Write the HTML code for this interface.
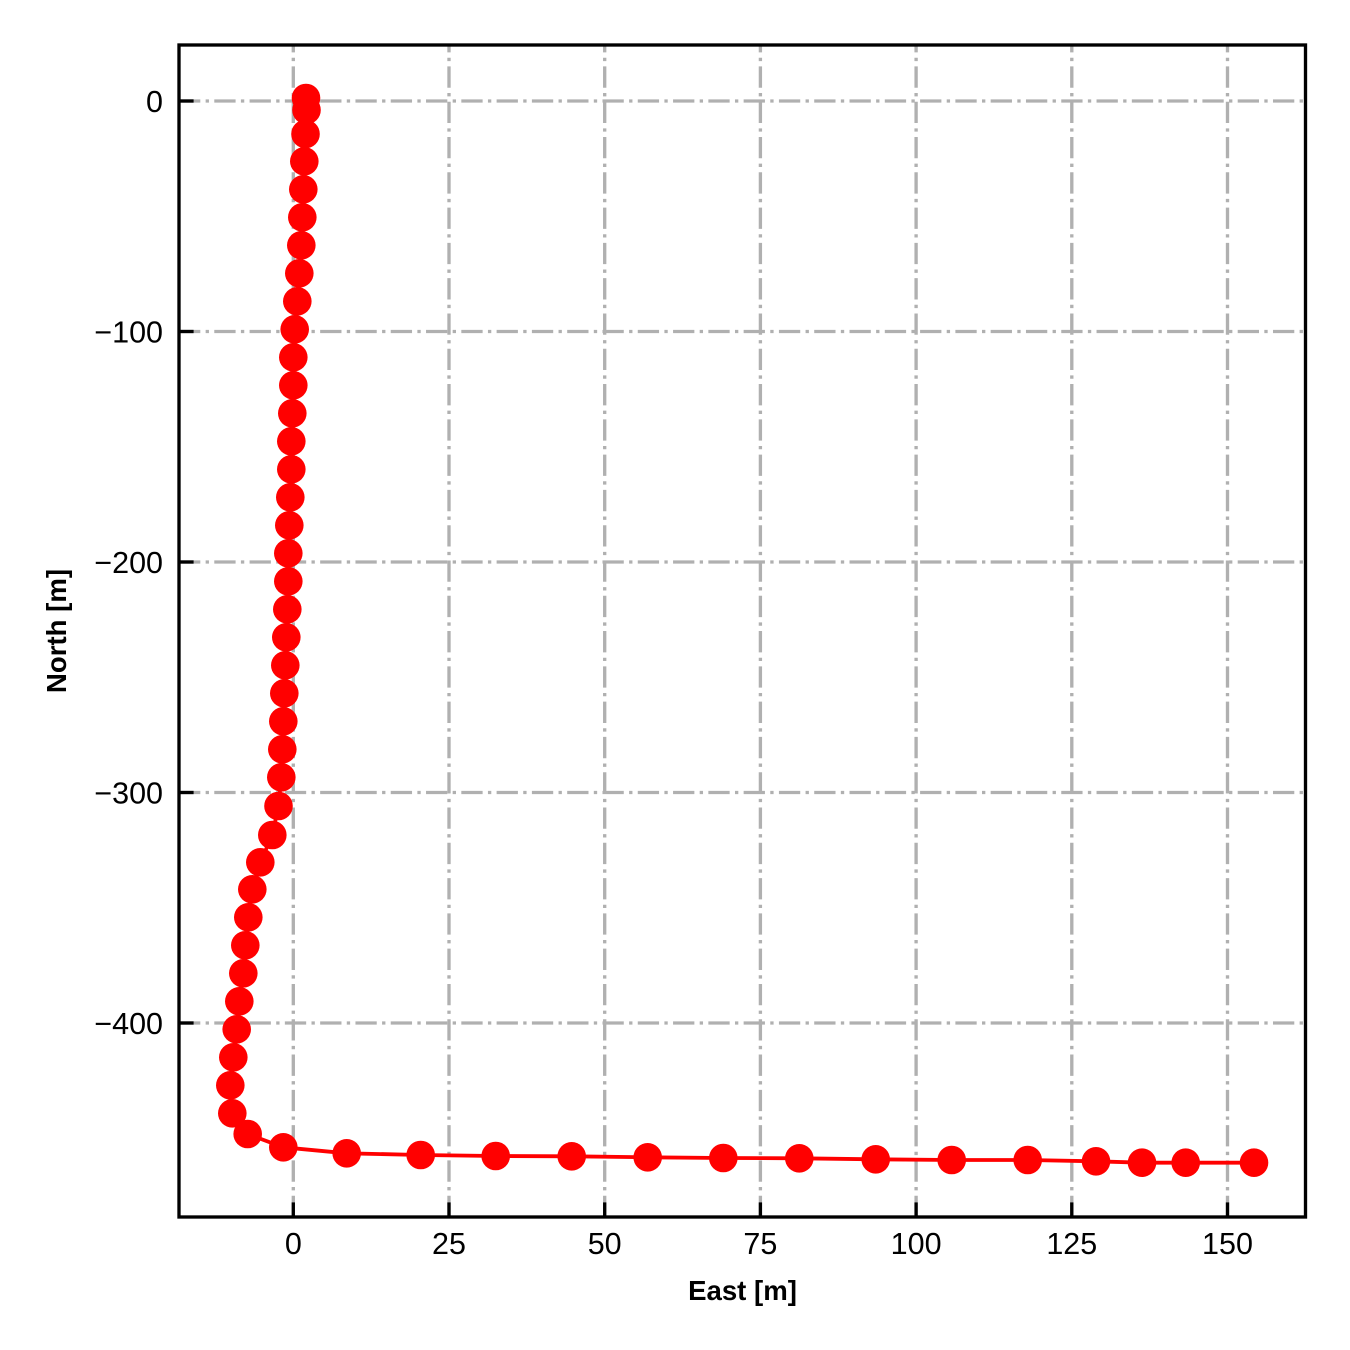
<!DOCTYPE html>
<html>
<head>
<meta charset="utf-8">
<style>
html,body{margin:0;padding:0;background:#fff;}
svg{display:block;}
text{font-family:"Liberation Sans","DejaVu Sans",sans-serif;fill:#000;}
</style>
</head>
<body>
<svg width="1350" height="1350" viewBox="0 0 1350 1350" xmlns="http://www.w3.org/2000/svg">
<rect x="0" y="0" width="1350" height="1350" fill="#fff"/>
<g stroke="#b0b0b0" stroke-width="3.33" stroke-dasharray="21.3 5.33 3.33 5.33" fill="none">
<line x1="179" y1="101" x2="1305.5" y2="101"/>
<line x1="179" y1="331.5" x2="1305.5" y2="331.5"/>
<line x1="179" y1="562" x2="1305.5" y2="562"/>
<line x1="179" y1="792.5" x2="1305.5" y2="792.5"/>
<line x1="179" y1="1023" x2="1305.5" y2="1023"/>
<line x1="293.3" y1="1217" x2="293.3" y2="45"/>
<line x1="449" y1="1217" x2="449" y2="45"/>
<line x1="604.7" y1="1217" x2="604.7" y2="45"/>
<line x1="760.4" y1="1217" x2="760.4" y2="45"/>
<line x1="916.1" y1="1217" x2="916.1" y2="45"/>
<line x1="1071.8" y1="1217" x2="1071.8" y2="45"/>
<line x1="1227.5" y1="1217" x2="1227.5" y2="45"/>
</g>
<polyline fill="none" stroke="#ff0000" stroke-width="3.8" stroke-linejoin="round" points="306,98 306.5,110 305.5,134 304.3,161.3 303.3,189.3 302.3,217.3 301.3,245.3 299.3,273.3 297.3,301.3 294.7,329.3 293.3,357.3 293.3,385.3 292.3,413.3 291.3,441.3 291.3,469.3 290.3,497.3 289.3,525.3 288.3,553.3 288.3,581.3 287.3,609.3 286.3,637.3 285.3,665.3 284.3,693.3 283.3,721.3 282.3,749.3 281.3,777.3 278.5,806 272.3,835 260.3,862.3 252.3,889.3 248.3,917.3 245.3,945.3 243.3,973.3 239.3,1001.3 236.7,1029.3 233.3,1057.3 230.3,1085.3 232.3,1113.3 247.7,1134 283.3,1147.3 346.7,1153.3 420.7,1155 495.7,1156 571.7,1156.3 647.7,1157.3 723.3,1158 799.3,1158.3 875.7,1159.3 951.7,1160 1027.7,1160 1096,1161.3 1142,1162.7 1185.7,1162.7 1254,1162.7"/>
<g fill="#ff0000">
<circle cx="306" cy="98" r="14.3"/>
<circle cx="306.5" cy="110" r="14.3"/>
<circle cx="305.5" cy="134" r="14.3"/>
<circle cx="304.3" cy="161.3" r="14.3"/>
<circle cx="303.3" cy="189.3" r="14.3"/>
<circle cx="302.3" cy="217.3" r="14.3"/>
<circle cx="301.3" cy="245.3" r="14.3"/>
<circle cx="299.3" cy="273.3" r="14.3"/>
<circle cx="297.3" cy="301.3" r="14.3"/>
<circle cx="294.7" cy="329.3" r="14.3"/>
<circle cx="293.3" cy="357.3" r="14.3"/>
<circle cx="293.3" cy="385.3" r="14.3"/>
<circle cx="292.3" cy="413.3" r="14.3"/>
<circle cx="291.3" cy="441.3" r="14.3"/>
<circle cx="291.3" cy="469.3" r="14.3"/>
<circle cx="290.3" cy="497.3" r="14.3"/>
<circle cx="289.3" cy="525.3" r="14.3"/>
<circle cx="288.3" cy="553.3" r="14.3"/>
<circle cx="288.3" cy="581.3" r="14.3"/>
<circle cx="287.3" cy="609.3" r="14.3"/>
<circle cx="286.3" cy="637.3" r="14.3"/>
<circle cx="285.3" cy="665.3" r="14.3"/>
<circle cx="284.3" cy="693.3" r="14.3"/>
<circle cx="283.3" cy="721.3" r="14.3"/>
<circle cx="282.3" cy="749.3" r="14.3"/>
<circle cx="281.3" cy="777.3" r="14.3"/>
<circle cx="278.5" cy="806" r="14.3"/>
<circle cx="272.3" cy="835" r="14.3"/>
<circle cx="260.3" cy="862.3" r="14.3"/>
<circle cx="252.3" cy="889.3" r="14.3"/>
<circle cx="248.3" cy="917.3" r="14.3"/>
<circle cx="245.3" cy="945.3" r="14.3"/>
<circle cx="243.3" cy="973.3" r="14.3"/>
<circle cx="239.3" cy="1001.3" r="14.3"/>
<circle cx="236.7" cy="1029.3" r="14.3"/>
<circle cx="233.3" cy="1057.3" r="14.3"/>
<circle cx="230.3" cy="1085.3" r="14.3"/>
<circle cx="232.3" cy="1113.3" r="14.3"/>
<circle cx="247.7" cy="1134" r="14.3"/>
<circle cx="283.3" cy="1147.3" r="14.3"/>
<circle cx="346.7" cy="1153.3" r="14.3"/>
<circle cx="420.7" cy="1155" r="14.3"/>
<circle cx="495.7" cy="1156" r="14.3"/>
<circle cx="571.7" cy="1156.3" r="14.3"/>
<circle cx="647.7" cy="1157.3" r="14.3"/>
<circle cx="723.3" cy="1158" r="14.3"/>
<circle cx="799.3" cy="1158.3" r="14.3"/>
<circle cx="875.7" cy="1159.3" r="14.3"/>
<circle cx="951.7" cy="1160" r="14.3"/>
<circle cx="1027.7" cy="1160" r="14.3"/>
<circle cx="1096" cy="1161.3" r="14.3"/>
<circle cx="1142" cy="1162.7" r="14.3"/>
<circle cx="1185.7" cy="1162.7" r="14.3"/>
<circle cx="1254" cy="1162.7" r="14.3"/>
</g>
<g stroke="#000" stroke-width="3.33">
<line x1="179" y1="101" x2="193.6" y2="101"/>
<line x1="179" y1="331.5" x2="193.6" y2="331.5"/>
<line x1="179" y1="562" x2="193.6" y2="562"/>
<line x1="179" y1="792.5" x2="193.6" y2="792.5"/>
<line x1="179" y1="1023" x2="193.6" y2="1023"/>
<line x1="293.3" y1="1217" x2="293.3" y2="1202.4"/>
<line x1="449" y1="1217" x2="449" y2="1202.4"/>
<line x1="604.7" y1="1217" x2="604.7" y2="1202.4"/>
<line x1="760.4" y1="1217" x2="760.4" y2="1202.4"/>
<line x1="916.1" y1="1217" x2="916.1" y2="1202.4"/>
<line x1="1071.8" y1="1217" x2="1071.8" y2="1202.4"/>
<line x1="1227.5" y1="1217" x2="1227.5" y2="1202.4"/>
</g>
<rect x="179" y="45" width="1126.5" height="1172" fill="none" stroke="#000" stroke-width="3.33"/>
<g font-size="30.5" text-anchor="end">
<text x="163" y="112">0</text>
<text x="163" y="342.5">−100</text>
<text x="163" y="573">−200</text>
<text x="163" y="803.5">−300</text>
<text x="163" y="1034">−400</text>
</g>
<g font-size="30.5" text-anchor="middle">
<text x="293.3" y="1254">0</text>
<text x="449" y="1254">25</text>
<text x="604.7" y="1254">50</text>
<text x="760.4" y="1254">75</text>
<text x="916.1" y="1254">100</text>
<text x="1071.8" y="1254">125</text>
<text x="1227.5" y="1254">150</text>
</g>
<text x="742.5" y="1300" font-size="27.6" font-weight="bold" text-anchor="middle">East [m]</text>
<text transform="translate(66,631) rotate(-90)" font-size="27.6" font-weight="bold" text-anchor="middle">North [m]</text>
</svg>
</body>
</html>
